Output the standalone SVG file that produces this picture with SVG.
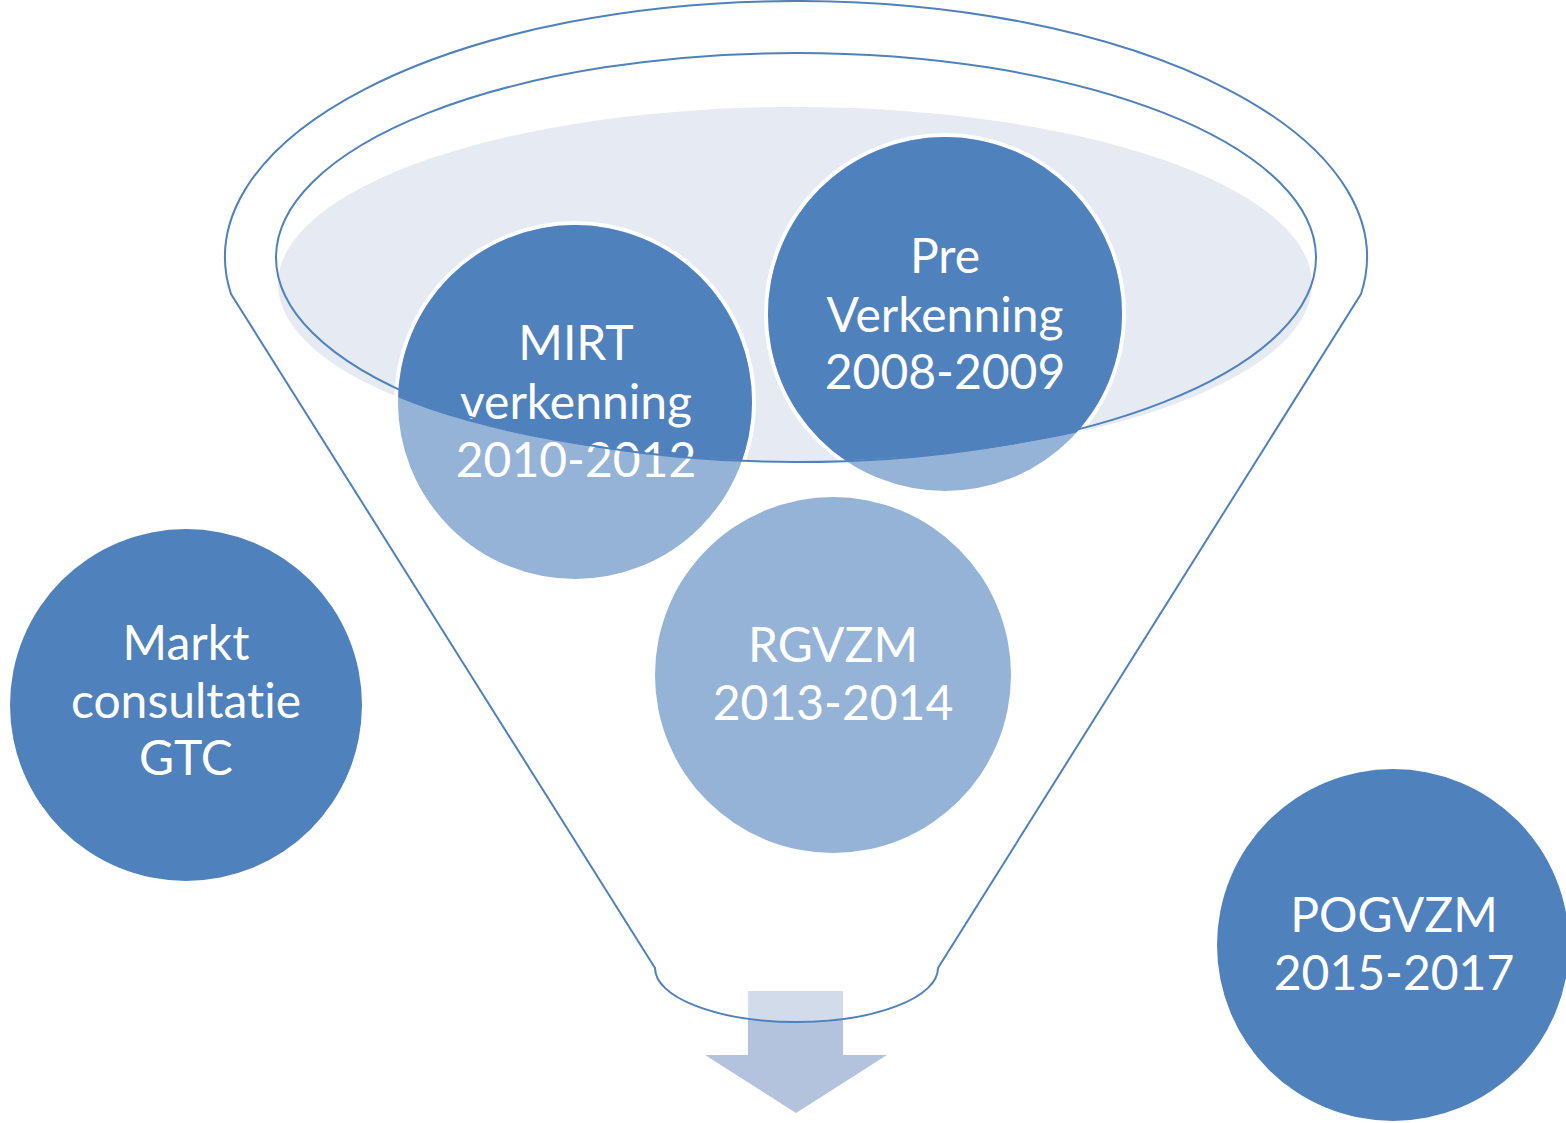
<svg xmlns="http://www.w3.org/2000/svg" width="1566" height="1123" viewBox="0 0 1566 1123">
<style>
.lbl{font-family:Lato,"Open Sans","Liberation Sans",sans-serif;font-size:48px;fill:#ffffff;text-anchor:middle;font-variant-ligatures:none;font-feature-settings:"liga" 0,"clig" 0,"dlig" 0}
.dark{fill:#4f81bd}
.light{fill:#95b3d7}
.ring{fill:none;stroke:#4f81bd;stroke-width:2}
</style>
<defs>
<clipPath id="mouth"><ellipse cx="795" cy="284" rx="517" ry="177"/></clipPath>
</defs>
<rect width="1566" height="1123" fill="#ffffff"/>
<g id="arrow">
<path d="M748,991 H843 V1055 H887 L796,1113 L705,1055 H748 Z" fill="#b3c3dd"/>
</g>
<g id="funnel">
<path d="M231,294 A571 256 0 1 1 1361,294 L938,968 A141.5 54 0 0 1 655,968 Z" fill="#ffffff" fill-opacity="0.4" stroke="#4f81bd" stroke-width="2"/>
<ellipse cx="795" cy="284" rx="517" ry="177" fill="#e5eaf3"/>
</g>
<g id="node-mirt">
<circle cx="575" cy="402" r="179" class="light" stroke="#ffffff" stroke-width="4"/>
<circle cx="575" cy="402" r="177" class="dark" clip-path="url(#mouth)"/>
<text class="lbl" x="576" y="360">MIRT</text>
<text class="lbl" x="576" y="418.5">verkenning</text>
<text class="lbl" x="576" y="477">2010-2012</text>
</g>
<g id="node-pre">
<circle cx="945" cy="314" r="179" class="light" stroke="#ffffff" stroke-width="4"/>
<circle cx="945" cy="314" r="177" class="dark" clip-path="url(#mouth)"/>
<text class="lbl" x="945" y="273">Pre</text>
<text class="lbl" x="945" y="332">Verkenning</text>
<text class="lbl" x="945" y="389">2008-2009</text>
</g>
<g id="node-rgvzm">
<circle cx="833" cy="675" r="178" class="light"/>
<text class="lbl" x="833" y="662">RGVZM</text>
<text class="lbl" x="833" y="720">2013-2014</text>
</g>
<g id="node-markt">
<circle cx="186" cy="705" r="176" class="dark"/>
<text class="lbl" x="186" y="660">Markt</text>
<text class="lbl" x="186" y="718">consultatie</text>
<text class="lbl" x="186" y="775">GTC</text>
</g>
<g id="node-pogvzm">
<circle cx="1393" cy="945" r="176" class="dark"/>
<text class="lbl" x="1394" y="932">POGVZM</text>
<text class="lbl" x="1394" y="990">2015-2017</text>
</g>
<g id="connectors">
<ellipse id="rim" cx="796" cy="257.5" rx="520" ry="204.5" class="ring"/>
</g>
</svg>
